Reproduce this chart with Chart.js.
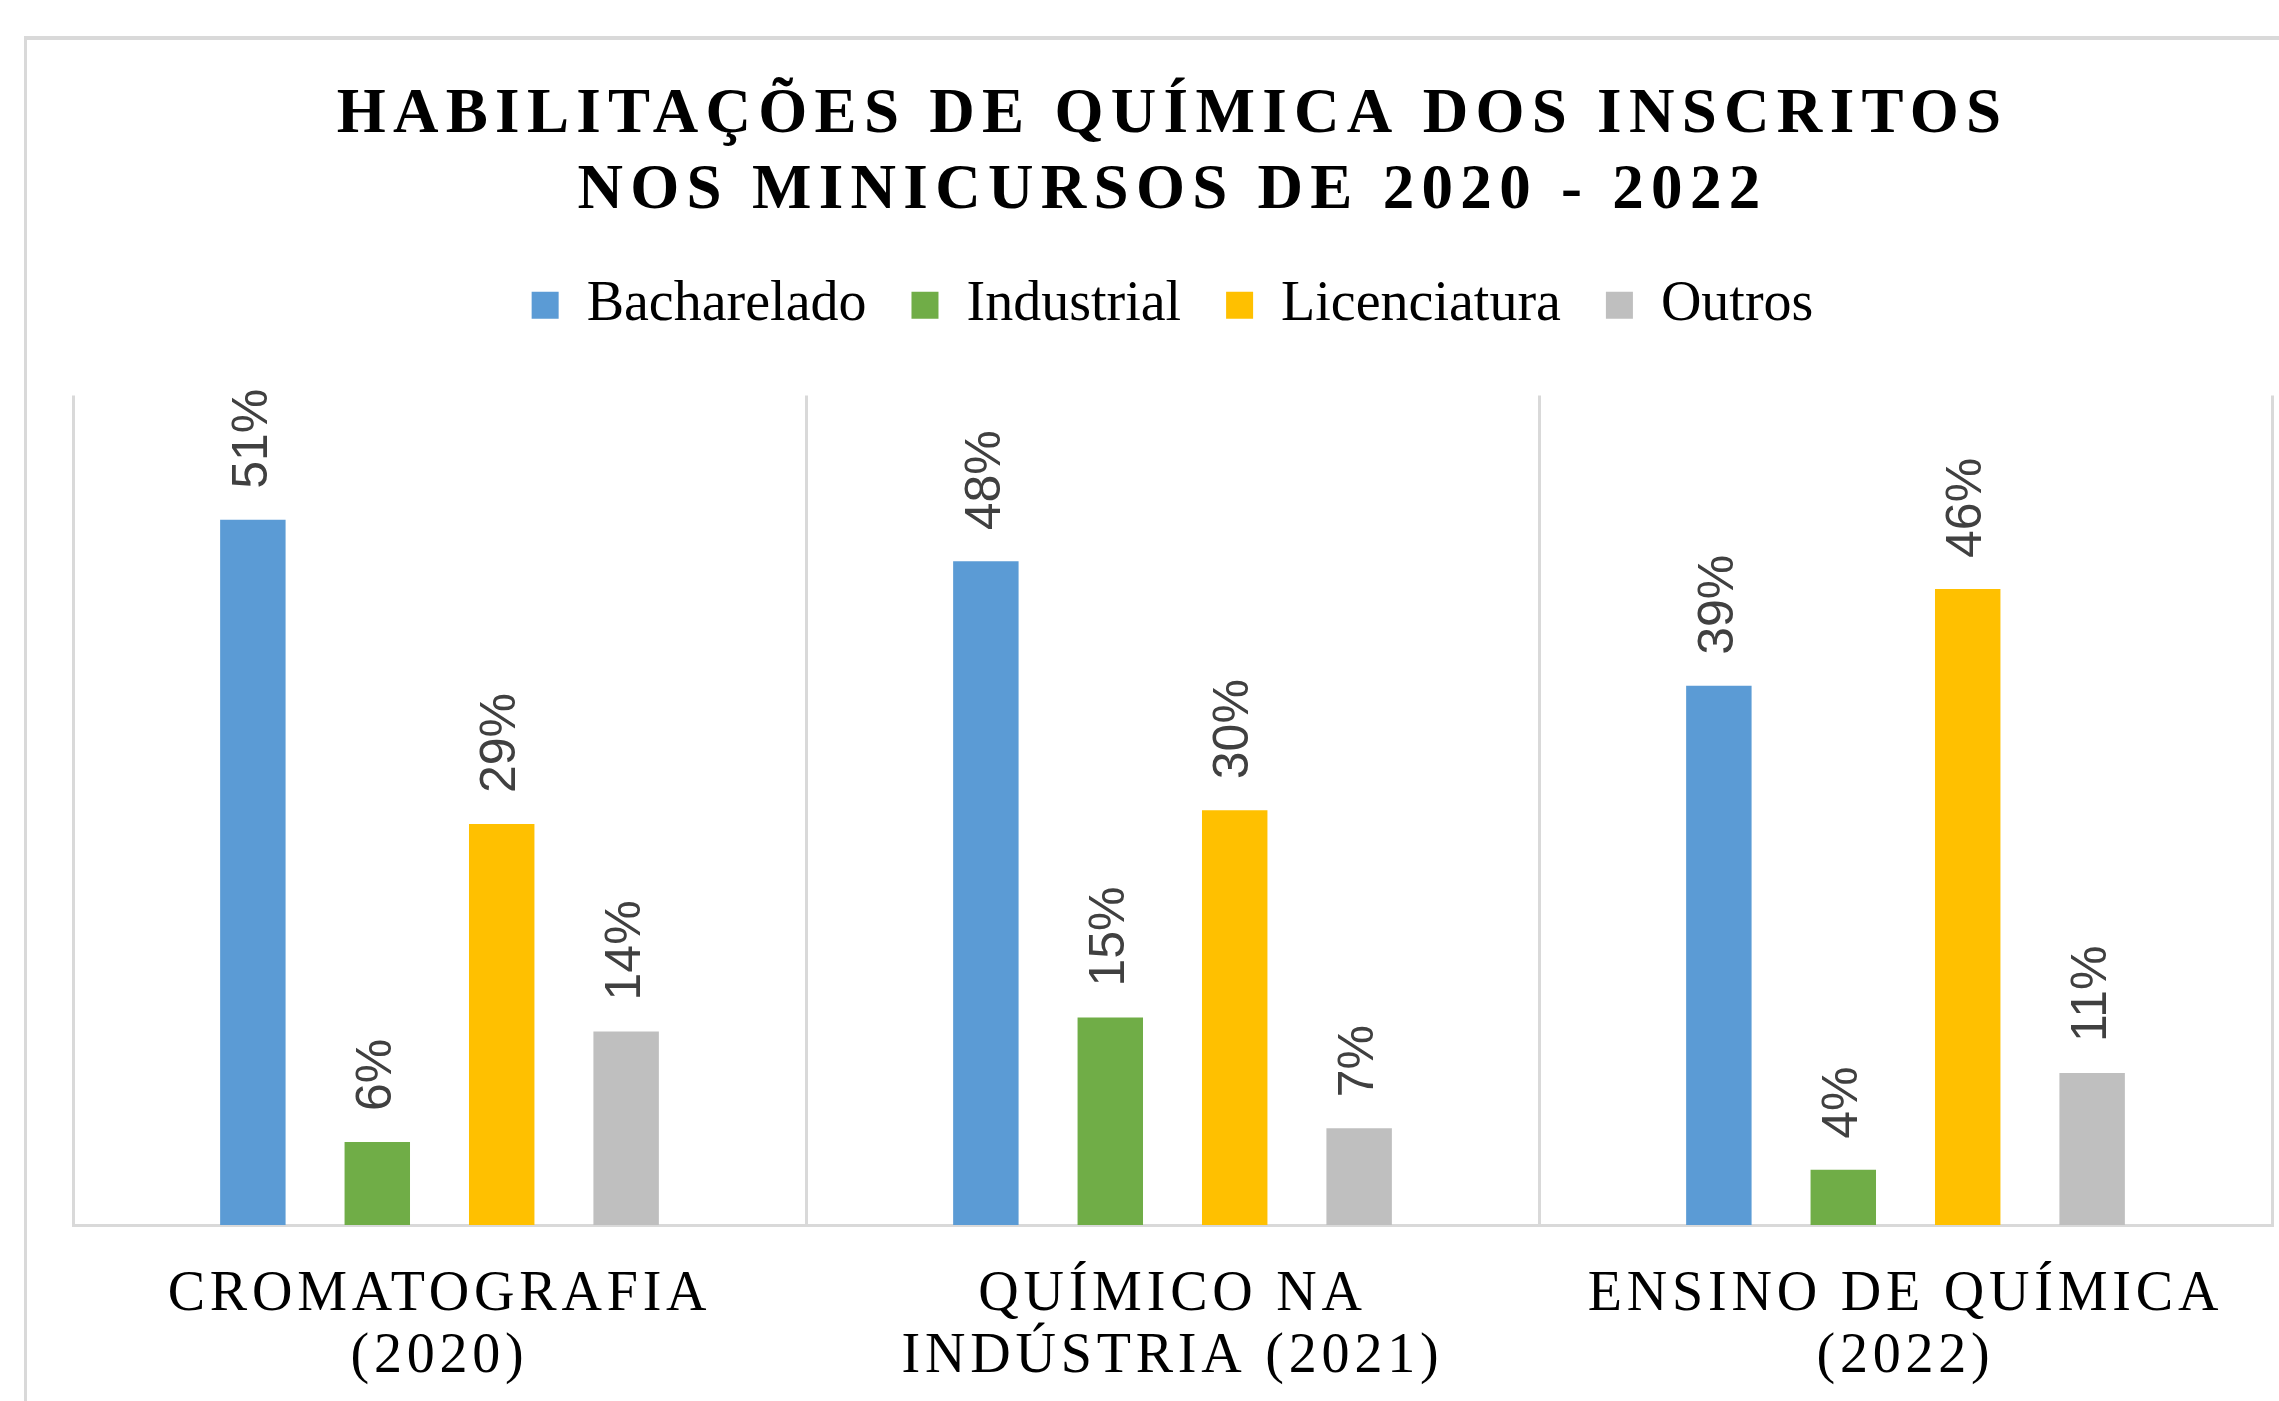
<!DOCTYPE html>
<html>
<head>
<meta charset="utf-8">
<script src="https://cdn.jsdelivr.net/npm/chart.js@4/dist/chart.umd.min.js"></script>
<style>
  html, body { margin: 0; padding: 0; background: #fff; overflow: hidden; }
  #frame {
    position: absolute;
    left: 24px;
    top: 36px;
    border-top: 4px solid #d9d9d9;
    border-left: 3px solid #d9d9d9;
  }
  canvas { display: block; }
</style>
</head>
<body>
<div id="frame"><canvas id="chart" width="2290" height="1400"></canvas></div>
<script>
// chart data
const categories = [
  ['CROMATOGRAFIA', '(2020)'],
  ['QUÍMICO NA', 'INDÚSTRIA (2021)'],
  ['ENSINO DE QUÍMICA', '(2022)']
];
const seriesNames = ['Bacharelado', 'Industrial', 'Licenciatura', 'Outros'];
const bacharelado = [51, 48, 39];
const industrial = [6, 15, 4];
const licenciatura = [29, 30, 46];
const outros = [14, 7, 11];
const seriesColors = ['#5B9BD5', '#70AD47', '#FFC000', '#BFBFBF'];

const seriesValues = [bacharelado, industrial, licenciatura, outros];

// Excel style letter spacing for title and category labels
function wrapSpacing(obj, method, spacing) {
  const orig = obj[method];
  obj[method] = function (...args) {
    const ctx = this.ctx;
    ctx.save();
    ctx.letterSpacing = spacing;
    orig.apply(this, args);
    ctx.restore();
  };
}

const spacedText = {
  id: 'spacedText',
  beforeDraw(chart) {
    if (chart.$spaced) return;
    chart.$spaced = true;
    wrapSpacing(chart.titleBlock, 'draw', '7.3px');
    wrapSpacing(chart.scales.x, 'drawLabels', '4.8px');
  }
};

// rotated value labels above each bar
const barLabels = {
  id: 'barLabels',
  afterDatasetsDraw(chart) {
    const ctx = chart.ctx;
    ctx.save();
    ctx.font = '50px "Liberation Sans", Arial, sans-serif';
    ctx.fillStyle = '#404040';
    ctx.textAlign = 'left';
    ctx.textBaseline = 'middle';
    chart.data.datasets.forEach((ds, i) => {
      chart.getDatasetMeta(i).data.forEach((bar, j) => {
        ctx.save();
        ctx.translate(bar.x, bar.y - 31);
        ctx.rotate(-Math.PI / 2);
        ctx.fillText(ds.data[j] + '%', 0, 0);
        ctx.restore();
      });
    });
    ctx.restore();
  }
};

const ctx = document.getElementById('chart').getContext('2d');

new Chart(ctx, {
  type: 'bar',
  data: {
    labels: categories,
    datasets: seriesNames.map((name, i) => ({
      label: name,
      data: seriesValues[i],
      backgroundColor: seriesColors[i],
      borderWidth: 0,
      categoryPercentage: 0.679,
      barPercentage: 0.526
    }))
  },
  options: {
    responsive: false,
    animation: false,
    devicePixelRatio: 1,
    layout: {
      padding: { left: 46, right: 45, top: 0, bottom: 13 }
    },
    plugins: {
      tooltip: { enabled: false },
      title: {
        display: true,
        text: ['HABILITAÇÕES DE QUÍMICA DOS INSCRITOS', 'NOS MINICURSOS DE 2020 - 2022'],
        color: '#000',
        font: { family: '"Liberation Serif", "Times New Roman", serif', size: 63, weight: 'bold', lineHeight: 1.2 },
        padding: { top: 38, bottom: 3 }
      },
      legend: {
        display: true,
        position: 'top',
        labels: {
          color: '#000',
          font: { family: '"Liberation Serif", "Times New Roman", serif', size: 56 },
          boxWidth: 27,
          boxHeight: 27,
          padding: 45
        }
      },
      subtitle: {
        // spacer between legend and plot
        display: true,
        text: '',
        position: 'top',
        weight: 500,
        font: { size: 1 },
        padding: { top: 51, bottom: 0 }
      }
    },
    scales: {
      x: {
        grid: {
          display: true,
          offset: true,
          color: '#D9D9D9',
          lineWidth: 3,
          drawTicks: false
        },
        border: { display: true, color: '#D9D9D9', width: 3 },
        ticks: {
          color: '#000',
          padding: 39,
          maxRotation: 0,
          autoSkip: false,
          font: { family: '"Liberation Serif", "Times New Roman", serif', size: 56, lineHeight: 1.107 }
        }
      },
      y: {
        display: false,
        min: 0,
        max: 60
      }
    }
  },
  plugins: [spacedText, barLabels]
});
</script>
</body>
</html>
